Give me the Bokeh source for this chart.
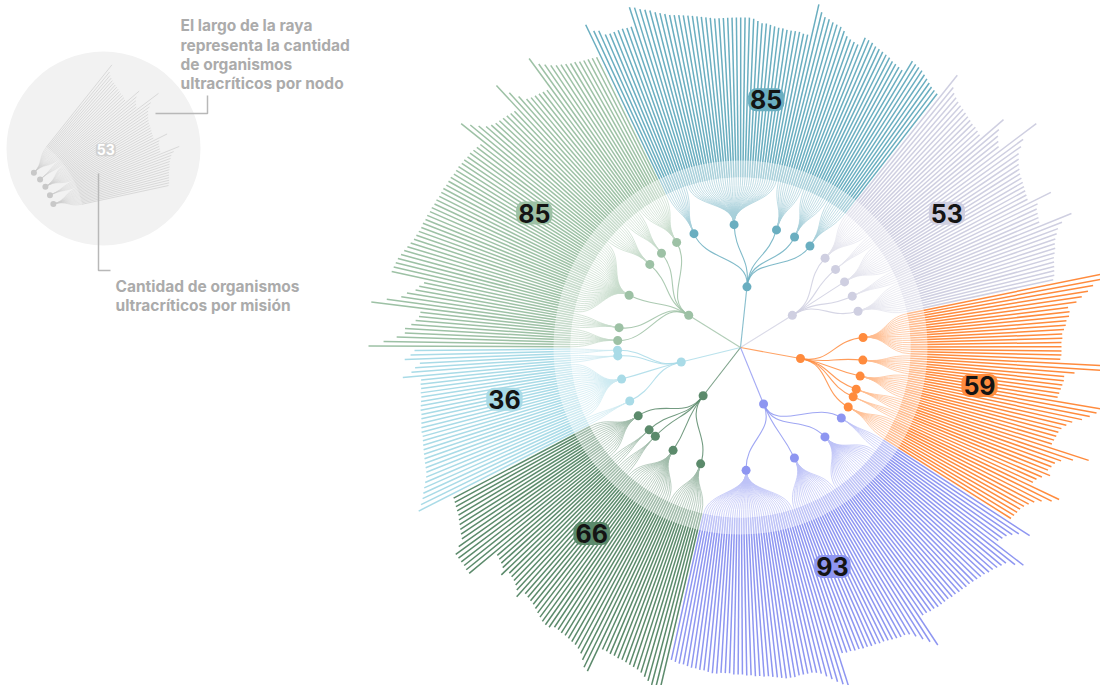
import numpy as np
from bokeh.plotting import figure
from bokeh.models import Range1d, ColumnDataSource
from bokeh.core.properties import value
from bokeh.embed import file_html
from bokeh.resources import INLINE

# ---------------- data ----------------
# missions in clockwise order starting at the top-left
mission_totals = [85, 53, 59, 93, 66, 36, 85]
mission_colors = ["#6aaec0", "#cfcfe1", "#ff8b3d", "#8e96f1", "#5b8a6b", "#a9dbe7", "#9dc1a5"]

# bar length ("largo de la raya") per leaf, grouped by node
largo_teal = [
    [188, 179, 177, 171, 170, 170, 170, 170, 169, 169],
    [188, 186, 183, 181, 179, 176, 174, 172, 170, 169, 168, 167, 166, 165, 164, 163, 162, 161, 160, 160,
     160, 160, 160, 160, 160, 160, 160, 159, 157, 155, 155, 154, 153, 152, 152, 151, 151, 151, 151, 150, 150],
    [182, 175, 171, 170, 168, 167, 166, 163, 159, 157, 156, 155],
    [164, 163, 162, 160, 159, 158, 157, 156, 154, 153, 152, 151],
    [164, 163, 162, 161, 159, 157, 155, 153, 152, 151],
]
largo_lavanda = [
    [178, 166, 162, 160, 158, 157, 156, 155, 154, 153, 152, 152, 151, 150],
    [178, 168, 163, 160, 157],
    [201, 181, 175, 169, 166, 163, 161, 159, 158, 157, 156, 155, 154, 153],
    [177, 160, 157, 156, 155, 154],
    [187, 175, 169, 166, 163, 161, 160, 158, 156, 155, 154, 153, 152, 150],
]
largo_naranja = [
    [201, 197, 188, 182, 175, 169, 160, 161, 160, 157, 156, 154, 152, 152, 151, 151, 151, 151, 150],
    [199, 196, 165, 155, 155, 154, 153, 152, 151],
    [201, 192, 186, 179, 170, 165, 161, 159, 158, 157, 156],
    [196, 181, 170, 165, 163, 161],
    [165, 158, 154, 152],
    [183, 177, 168, 162, 158, 155, 153, 152, 151, 150],
]
largo_azul = [
    [175, 165, 160, 156, 154, 152],
    [187, 180, 172, 170, 168, 166, 165, 163, 162, 161, 160, 159, 159, 158, 158, 157, 157, 156, 156, 156,
     156, 155, 155, 154, 154],
    [187, 180, 174, 168, 163, 161, 161, 160, 159, 158, 157, 157, 156, 156, 155, 155, 154, 154, 153, 153, 152],
    [188, 182, 178, 174, 170, 166, 164, 163, 163, 163, 163, 164, 164, 164, 163, 162, 161, 160, 160, 159,
     159, 158, 158, 157, 157, 157, 156, 156, 156, 157, 157, 156, 155, 155, 154, 154, 153, 152, 152, 151, 150],
]
largo_verde = [
    [184, 181, 179, 176, 173, 170, 168, 167, 166, 165, 164, 164, 163, 163, 162, 162],
    [188, 186, 180, 175, 172, 170, 169, 168, 167, 167, 166, 166, 169, 169, 168, 166, 164, 162, 160, 159, 158, 157],
    [165, 160, 157, 155, 154, 153],
    [160, 154, 152, 151, 150],
    [183, 183, 182, 182, 182, 182, 175, 168, 166, 164, 162, 160, 158, 157, 156, 155, 154],
]
largo_celeste = [
    [191, 186, 182, 179],
    [176, 173, 170, 168, 167, 166, 165, 164, 163, 162, 161, 160, 160, 159, 158, 157, 156, 156, 155, 154,
     153, 153, 152, 152, 151],
    [169, 160, 156, 151],
    [166, 160, 156],
]
largo_salvia = [
    [202, 187, 174, 166, 166, 160, 156, 153, 152],
    [202, 187, 173, 168, 160, 157, 153],
    [187, 186, 185, 184, 182, 180, 178, 176, 174, 173, 172, 171, 171, 170, 170, 169, 169, 168, 168, 167,
     167, 167, 166, 166, 166, 165, 165, 165, 164, 164, 163, 163, 162, 161, 160],
    [188, 180, 173, 167, 164, 162, 161, 160, 159, 158, 157],
    [188, 174, 165, 158, 156, 155, 154, 153, 152],
    [188, 178, 174, 170, 167, 165, 163, 161, 160, 158, 157, 156, 155, 154],
]
missions = [largo_teal, largo_lavanda, largo_naranja, largo_azul, largo_verde, largo_celeste, largo_salvia]

note_nodo = ["El largo de la raya", "representa la cantidad", "de organismos", "ultracríticos por nodo"]
note_mision = ["Cantidad de organismos", "ultracríticos por misión"]

# ---------------- geometry ----------------
CX, CY = 740.0, 347.0
R_ROOT, R_NODE, R_LEAF, R_DISK, R_LABEL = 61.0, 123.0, 170.0, 187.0, 243.0
LABEL_LIFT = 6.0
START_DEG = 116.0
N_LEAVES = sum(mission_totals)
STEP = 360.0 / N_LEAVES


def pol(theta, r, ox, oy, s):
    t = np.radians(theta)
    return ox + s * r * np.cos(t), oy - s * r * np.sin(t)


def seg_dict():
    return dict(x0=[], y0=[], x1=[], y1=[], c=[])


def bez_dict():
    return dict(x0=[], y0=[], x1=[], y1=[], cx0=[], cy0=[], cx1=[], cy1=[], c=[])


def pt_dict():
    return dict(x=[], y=[], c=[])


def add_link(d, a0, r0, a1, r1, ox, oy, s, color):
    rm = (r0 + r1) / 2.0
    x0, y0 = pol(a0, r0, ox, oy, s)
    x1, y1 = pol(a1, r1, ox, oy, s)
    c0x, c0y = pol(a0, rm, ox, oy, s)
    c1x, c1y = pol(a1, rm, ox, oy, s)
    d["x0"].append(x0); d["y0"].append(y0); d["x1"].append(x1); d["y1"].append(y1)
    d["cx0"].append(c0x); d["cy0"].append(c0y); d["cx1"].append(c1x); d["cy1"].append(c1y)
    d["c"].append(color)


def build(mission, k0, ox, oy, s, color, bars, fans, links, nodes, roots, center):
    k = k0
    leaf_angles_all = []
    node_angles = []
    for node in mission:
        angs = [START_DEG - (k + i + 0.5) * STEP for i in range(len(node))]
        na = float(np.mean(angs))
        node_angles.append(na)
        for a, L in zip(angs, node):
            x0, y0 = pol(a, R_LEAF, ox, oy, s)
            x1, y1 = pol(a, R_LEAF + L, ox, oy, s)
            bars["x0"].append(x0); bars["y0"].append(y0); bars["x1"].append(x1); bars["y1"].append(y1)
            bars["c"].append(color)
            add_link(fans, na, R_NODE, a, R_LEAF, ox, oy, s, color)
        leaf_angles_all += angs
        k += len(node)
    ra = float(np.mean(leaf_angles_all))
    for na in node_angles:
        nx, ny = pol(na, R_NODE, ox, oy, s)
        nodes["x"].append(nx); nodes["y"].append(ny); nodes["c"].append(color)
        if roots is not None:
            add_link(links, ra, R_ROOT, na, R_NODE, ox, oy, s, color)
    if roots is not None:
        rx, ry = pol(ra, R_ROOT, ox, oy, s)
        roots["x"].append(rx); roots["y"].append(ry); roots["c"].append(color)
        center["x0"].append(ox); center["y0"].append(oy)
        center["x1"].append(rx); center["y1"].append(ry); center["c"].append(color)
    return k, ra


p = figure(width=1100, height=685, x_range=Range1d(0, 1100), y_range=Range1d(685, 0),
           output_backend="svg", toolbar_location=None, min_border=0)
p.axis.visible = False
p.grid.visible = False
p.outline_line_color = None
p.background_fill_color = "white"
p.border_fill_color = "white"

# ---------------- legend (mini tree) ----------------
LX, LY, LS = -16.5, 225.0, 0.59
p.circle(x=[103], y=[148], radius=97, fill_color="#f2f2f2", line_color=None)
lb, lf, ll, ln = seg_dict(), bez_dict(), bez_dict(), pt_dict()
k_lav = mission_totals[0]
_, lra = build(largo_lavanda, k_lav, LX, LY, LS, "#cdcdcd", lb, lf, ll, ln, None, None)
p.segment("x0", "y0", "x1", "y1", source=ColumnDataSource(lb), line_color="#d2d2d2", line_width=0.8)
p.bezier("x0", "y0", "x1", "y1", "cx0", "cy0", "cx1", "cy1", source=ColumnDataSource(lf),
         line_color="#cccccc", line_width=0.5, line_alpha=0.7)
p.scatter("x", "y", source=ColumnDataSource(ln), size=6, fill_color="#c8c8c8", line_color=None)
lx, ly = pol(lra, R_LABEL, LX, LY, LS)
p.text(x=[lx], y=[ly], text=[str(mission_totals[1])], text_color="white", text_font=value("Inter"),
       text_font_size="14px", text_font_style="bold", text_align="center", text_baseline="middle",
       background_fill_color="#d2d2d2", border_radius=4, padding=1)

# annotations
ann = "#ababab"
p.text(x=[180] * 4, y=[25, 45, 64, 83], text=note_nodo, text_color=ann, text_font=value("Inter"),
       text_font_size="15.5px", text_font_style="bold", text_align="left", text_baseline="alphabetic")
p.text(x=[115] * 2, y=[286, 305], text=note_mision, text_color=ann, text_font=value("Inter"),
       text_font_size="15.5px", text_font_style="bold", text_align="left", text_baseline="alphabetic")
p.line(x=[155, 207, 207], y=[113, 113, 95], line_color="#b8b8b8", line_width=1.5)
p.line(x=[98, 98, 110], y=[173, 270, 270], line_color="#b8b8b8", line_width=1.5)

# ---------------- main radial tree ----------------
bars, fans, links = seg_dict(), bez_dict(), bez_dict()
nodes, roots = pt_dict(), pt_dict()
center = seg_dict()
root_angles = []
k = 0
for mis, col in zip(missions, mission_colors):
    k, ra = build(mis, k, CX, CY, 1.0, col, bars, fans, links, nodes, roots, center)
    root_angles.append(ra)

p.segment("x0", "y0", "x1", "y1", source=ColumnDataSource(bars), line_color="c", line_width=1.5)
p.bezier("x0", "y0", "x1", "y1", "cx0", "cy0", "cx1", "cy1", source=ColumnDataSource(fans),
         line_color="c", line_width=0.8, line_alpha=0.9)
p.circle(x=[CX], y=[CY], radius=R_DISK, fill_color="white", fill_alpha=0.42, line_color=None)
p.segment("x0", "y0", "x1", "y1", source=ColumnDataSource(center), line_color="c", line_width=1.1,
          line_alpha=0.8)
p.bezier("x0", "y0", "x1", "y1", "cx0", "cy0", "cx1", "cy1", source=ColumnDataSource(links),
         line_color="c", line_width=1.1, line_alpha=0.85)
p.scatter("x", "y", source=ColumnDataSource(nodes), size=9, fill_color="c", line_color=None)
p.scatter("x", "y", source=ColumnDataSource(roots), size=9, fill_color="c", line_color=None)

lab = dict(x=[], y=[], t=[], c=[])
for ra, tot, col in zip(root_angles, mission_totals, mission_colors):
    x, y = pol(ra, R_LABEL, CX, CY, 1.0)
    lab["x"].append(x); lab["y"].append(y - LABEL_LIFT); lab["t"].append(str(tot)); lab["c"].append(col)
p.text("x", "y", text="t", source=ColumnDataSource(lab), text_color="#141414", text_font=value("Inter"),
       text_font_size="25px", text_font_style="bold", text_align="center", text_baseline="middle",
       background_fill_color="c", border_radius=8, padding=2)

open("out.html", "w").write(file_html(p, INLINE))
